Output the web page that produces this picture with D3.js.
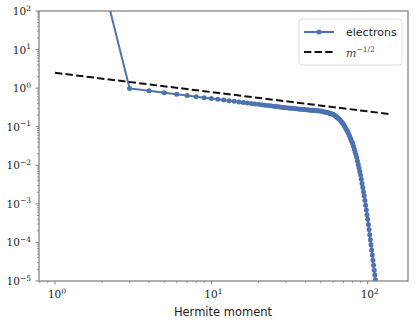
<!DOCTYPE html>
<html>
  <head>
    <meta charset="utf-8">
    <title>Hermite spectrum</title>
    <script src="https://d3js.org/d3.v7.min.js"></script>
    <style>
      body { margin: 0; background: #fff; }
      svg { display: block; }
    </style>
  </head>
  <body>
    <svg id="chart" width="415" height="324"></svg>
    <script>
      // Hermite moment index and electron spectrum
      var moments = d3.range(2, 113);
      var electrons = [700,
        0.981, 0.850, 0.760, 0.694, 0.643, 0.601, 0.567, 0.538, 0.513, 0.491,
        0.472, 0.454, 0.439, 0.425, 0.412, 0.401, 0.390, 0.380, 0.371, 0.362,
        0.355, 0.347, 0.340, 0.333, 0.327, 0.321, 0.316, 0.310, 0.306, 0.302,
        0.299, 0.295, 0.292, 0.288, 0.285, 0.282, 0.279, 0.277, 0.274, 0.272,
        0.269, 0.267, 0.265, 0.263, 0.260, 0.259, 0.257, 0.255, 0.250, 0.246,
        0.242, 0.238, 0.235, 0.229, 0.224, 0.219, 0.214, 0.210, 0.200, 0.190,
        0.181, 0.172, 0.164, 0.156, 0.144, 0.134, 0.124, 0.115, 0.104, 0.0941,
        0.0853, 0.0772, 0.0700, 0.0617, 0.0543, 0.0479, 0.0422, 0.0372, 0.0315, 0.0266,
        0.0225, 0.0191, 0.0161, 0.0130, 0.0105, 0.00851, 0.00688, 0.00556, 0.00434, 0.00339,
        0.00265, 0.00207, 0.00162, 0.00122, 0.000920, 0.000695, 0.000525, 0.000396, 0.000292, 0.000215,
        0.000159, 0.000117, 0.0000865, 0.0000638, 0.0000470, 0.0000347, 0.0000256, 0.0000189, 0.0000143, 0.0000108];
      // reference slope m^{-1/2}, drawn between these moments
      var refMoments = [1, 139];
      var refValues = [2.5, 0.212];
      var xTickExp = [0, 1, 2];
      var yTickExp = [-5, -4, -3, -2, -1, 0, 1, 2];

      var svg = d3.select("#chart");
      var margin = { top: 11, right: 7, bottom: 43, left: 39 };
      var width = 415, height = 324;

      var x = d3.scaleLog()
        .domain([Math.pow(10, -0.1023), Math.pow(10, 2.2577)])
        .range([margin.left, width - margin.right]);
      var y = d3.scaleLog()
        .domain([1e-5, 1e2])
        .range([height - margin.bottom, margin.top]);

      svg.append("defs").append("clipPath").attr("id", "clip")
        .append("rect")
          .attr("x", margin.left).attr("y", margin.top)
          .attr("width", x.range()[1] - margin.left)
          .attr("height", y.range()[0] - margin.top);

      // minor + major ticks
      var axisColor = "#808080";
      function minorTicks(scale) {
        var d = scale.domain(), out = [];
        for (var e = Math.floor(Math.log10(d[0])); e <= Math.ceil(Math.log10(d[1])); e++) {
          for (var k = 2; k < 10; k++) {
            var v = k * Math.pow(10, e);
            if (v >= d[0] && v <= d[1]) out.push(v);
          }
        }
        return out;
      }
      var ticks = svg.append("g").attr("stroke", axisColor);
      ticks.selectAll(".xminor").data(minorTicks(x)).enter().append("line")
        .attr("x1", function(d) { return x(d); }).attr("x2", function(d) { return x(d); })
        .attr("y1", y.range()[0]).attr("y2", y.range()[0] + 2).attr("stroke-width", 0.8);
      ticks.selectAll(".yminor").data(minorTicks(y)).enter().append("line")
        .attr("y1", function(d) { return y(d); }).attr("y2", function(d) { return y(d); })
        .attr("x1", margin.left).attr("x2", margin.left - 2).attr("stroke-width", 0.8);
      ticks.selectAll(".xmajor").data(xTickExp).enter().append("line")
        .attr("x1", function(d) { return x(Math.pow(10, d)); }).attr("x2", function(d) { return x(Math.pow(10, d)); })
        .attr("y1", y.range()[0]).attr("y2", y.range()[0] + 3.5).attr("stroke-width", 1);
      ticks.selectAll(".ymajor").data(yTickExp).enter().append("line")
        .attr("y1", function(d) { return y(Math.pow(10, d)); }).attr("y2", function(d) { return y(Math.pow(10, d)); })
        .attr("x1", margin.left).attr("x2", margin.left - 3.5).attr("stroke-width", 1);

      // tick labels as 10^n
      var labelFont = "'DejaVu Serif', 'Liberation Serif', serif";
      function powLabel(sel) {
        sel.append("tspan").text("10");
        sel.append("tspan").attr("dy", -4.5).attr("font-size", 7.5)
          .text(function(d) { return String(d).replace("-", "\u2212"); });
      }
      svg.append("g").selectAll("text").data(yTickExp).enter().append("text")
        .attr("x", 31).attr("y", function(d) { return y(Math.pow(10, d)) + 4; })
        .attr("text-anchor", "end").attr("font-family", labelFont).attr("font-size", 10.5)
        .attr("fill", "#222").call(powLabel);
      svg.append("g").selectAll("text").data(xTickExp).enter().append("text")
        .attr("x", function(d) { return x(Math.pow(10, d)) + 2; }).attr("y", 298)
        .attr("text-anchor", "middle").attr("font-family", labelFont).attr("font-size", 10.5)
        .attr("fill", "#222").call(powLabel);

      svg.append("text")
        .attr("x", 223).attr("y", 316)
        .attr("text-anchor", "middle")
        .attr("font-family", "'DejaVu Sans', sans-serif").attr("font-size", 11.5)
        .attr("fill", "#222").text("Hermite moment");

      // data
      var plot = svg.append("g").attr("clip-path", "url(#clip)");
      var blue = "#4c72b0";
      var pts = moments.map(function(m, i) { return [m, electrons[i]]; });
      var line = d3.line()
        .x(function(d) { return x(d[0]); })
        .y(function(d) { return y(d[1]); });
      plot.append("path").datum(pts)
        .attr("d", line).attr("fill", "none")
        .attr("stroke", blue).attr("stroke-width", 2);
      plot.selectAll(".dot").data(pts).enter().append("circle")
        .attr("cx", function(d) { return x(d[0]); })
        .attr("cy", function(d) { return y(d[1]); })
        .attr("r", 2.5).attr("fill", blue);
      plot.append("path").datum(refMoments.map(function(m, i) { return [m, refValues[i]]; }))
        .attr("d", line).attr("fill", "none")
        .attr("stroke", "#111").attr("stroke-width", 2)
        .attr("stroke-dasharray", "7.4,3.2");

      // spines
      svg.append("rect")
        .attr("x", margin.left).attr("y", margin.top)
        .attr("width", x.range()[1] - margin.left)
        .attr("height", y.range()[0] - margin.top)
        .attr("fill", "none").attr("stroke", axisColor).attr("stroke-width", 1.25);

      // legend
      var lg = svg.append("g").attr("transform", "translate(299,19)");
      lg.append("rect").attr("width", 103).attr("height", 46).attr("rx", 3)
        .attr("fill", "#fff").attr("fill-opacity", 0.8)
        .attr("stroke", "#ddd").attr("stroke-width", 1);
      lg.append("line").attr("x1", 5).attr("x2", 35).attr("y1", 13).attr("y2", 13)
        .attr("stroke", blue).attr("stroke-width", 2);
      lg.append("circle").attr("cx", 20).attr("cy", 13).attr("r", 2.5).attr("fill", blue);
      lg.append("text").attr("x", 47).attr("y", 17)
        .attr("font-family", "'DejaVu Sans', sans-serif").attr("font-size", 11)
        .attr("fill", "#222").text("electrons");
      lg.append("line").attr("x1", 5).attr("x2", 35).attr("y1", 33).attr("y2", 33)
        .attr("stroke", "#111").attr("stroke-width", 2).attr("stroke-dasharray", "7.4,3.2");
      var mt = lg.append("text").attr("x", 47).attr("y", 38)
        .attr("font-family", labelFont).attr("font-size", 11).attr("fill", "#444");
      mt.append("tspan").attr("font-style", "italic").text("m");
      mt.append("tspan").attr("dy", -5).attr("font-size", 7.5).text("\u22121/2");
    </script>
  </body>
</html>
